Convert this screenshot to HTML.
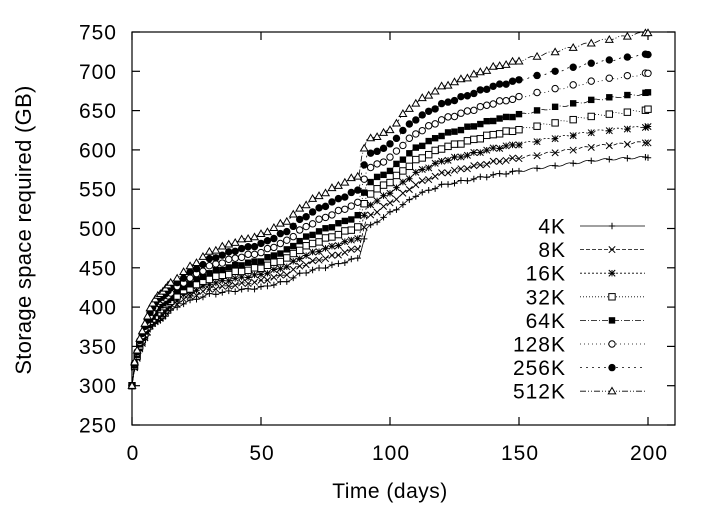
<!DOCTYPE html>
<html><head><meta charset="utf-8"><style>
body{margin:0;background:#fff}
svg text{font-family:"Liberation Sans",sans-serif;fill:#000}
</style></head><body>
<svg id="s" width="720" height="504" viewBox="0 0 720 504" xmlns="http://www.w3.org/2000/svg">
<rect width="720" height="504" fill="#fff"/>
<g id="ax" stroke="#000" stroke-width="1.2" fill="none"></g>
<g id="tx" font-size="21" letter-spacing="1"></g>
<g id="data"></g>
<text x="390" y="498" font-size="21" text-anchor="middle" letter-spacing="0.5">Time (days)</text>
<text transform="translate(31,230) rotate(-90)" font-size="22" text-anchor="middle" letter-spacing="0.3">Storage space required (GB)</text>
</svg>
<script>
const NS="http://www.w3.org/2000/svg";
const X=t=>132+t*2.58, Y=v=>425-(v-250)*0.786;
function el(p,tag,a,txt){const e=document.createElementNS(NS,tag);for(const k in a)e.setAttribute(k,a[k]);if(txt!=null)e.textContent=txt;p.appendChild(e);return e;}
const ax=document.getElementById('ax'),tx=document.getElementById('tx'),dg=document.getElementById('data');
el(ax,'rect',{x:132,y:32,width:543,height:393});
for(let v=250;v<=750;v+=50){const y=Y(v);el(ax,'line',{x1:132,y1:y,x2:140,y2:y});el(ax,'line',{x1:675,y1:y,x2:667,y2:y});el(tx,'text',{x:117,y:y+7.5,'text-anchor':'end'},v);}
for(let t=0;t<=200;t+=50){const x=X(t);el(ax,'line',{x1:x,y1:425,x2:x,y2:417});el(ax,'line',{x1:x,y1:32,x2:x,y2:40});el(tx,'text',{x:x+1,y:460,'text-anchor':'middle'},t);}
const lo=[[0,300],[1,322],[3,345],[7,372],[15,395],[20,405],[30,416],[40,421],[50,425],[60,433],[65,442],[70,447],[80,455],[88,463],[89,475],[91,500],[100,520],[105,530],[110,542],[120,555],[140,568],[160,578],[180,587],[200,591]];
const hi=[[0,300],[1,330],[3,360],[7,398],[10,415],[20,445],[30,470],[40,483],[50,492],[60,510],[65,525],[70,537],[80,555],[88,568],[89,592],[91,612],[100,625],[105,645],[110,660],[120,680],[140,705],[160,722],[180,738],[200,750]];
function interp(a,t){for(let i=1;i<a.length;i++)if(t<=a[i][0]){const f=(t-a[i-1][0])/(a[i][0]-a[i-1][0]);return a[i-1][1]+f*(a[i][1]-a[i-1][1]);}return a[a.length-1][1];}
const names=['4K','8K','16K','32K','64K','128K','256K','512K'];
const S=[0,0.12,0.245,0.377,0.51,0.667,0.824,1];
const dashes=['none','4,2','2,2','1,2','6,2,1,2','1,3','2,4','6,2,1,2,1,2'];
function marker(g,k,x,y){const r=3.2;
 switch(k){
 case 0:el(g,'path',{d:`M${x-r} ${y}H${x+r}M${x} ${y-r}V${y+r}`,stroke:'#000','stroke-width':1});break;
 case 1:el(g,'path',{d:`M${x-r} ${y-r}L${x+r} ${y+r}M${x-r} ${y+r}L${x+r} ${y-r}`,stroke:'#000','stroke-width':1});break;
 case 2:el(g,'path',{d:`M${x-r} ${y}H${x+r}M${x} ${y-r}V${y+r}M${x-r} ${y-r}L${x+r} ${y+r}M${x-r} ${y+r}L${x+r} ${y-r}`,stroke:'#000','stroke-width':1});break;
 case 3:el(g,'rect',{x:x-r,y:y-r,width:2*r,height:2*r,fill:'#fff',stroke:'#000','stroke-width':1});break;
 case 4:el(g,'rect',{x:x-r,y:y-r,width:2*r,height:2*r,fill:'#000'});break;
 case 5:el(g,'circle',{cx:x,cy:y,r:r,fill:'#fff',stroke:'#000','stroke-width':1});break;
 case 6:el(g,'circle',{cx:x,cy:y,r:r+0.5,fill:'#000'});break;
 case 7:el(g,'path',{d:`M${x} ${y-r-0.5}L${x+r+0.5} ${y+r-0.5}L${x-r-0.5} ${y+r-0.5}Z`,fill:'#fff',stroke:'#000','stroke-width':1});break;
 }}
for(let k=0;k<8;k++){
 const s=S[k];const f=t=>{const a=interp(lo,t),b=interp(hi,t);return a+(b-a)*s+Math.sin(t*0.9+k)*1.2*(t>5?1:0);};
 const g=el(dg,'g',{});
 let d='';for(let t=0;t<=200;t+=0.5)d+=(t?'L':'M')+X(t).toFixed(1)+' '+Y(f(t)).toFixed(1);
 el(g,'path',{d,fill:'none',stroke:'#000','stroke-width':0.8,'stroke-dasharray':dashes[k]});
 const ts=[];for(let t=0;t<15;t+=1)ts.push(t);for(let t=15;t<90;t+=2.5)ts.push(t);for(let t=90;t<150;t+=2.5)ts.push(t);for(let t=150;t<200;t+=7)ts.push(t);ts.push(200);
 ts.forEach(t=>marker(g,k,X(t),Y(f(t))));
 const ly=226+k*23.6;
 el(tx,'text',{x:566,y:ly+7.5,'text-anchor':'end'},names[k]);
 el(g,'line',{x1:580,y1:ly,x2:645,y2:ly,stroke:'#000','stroke-width':0.8,'stroke-dasharray':dashes[k]});
 marker(g,k,612,ly);
}
</script>
</body></html>
